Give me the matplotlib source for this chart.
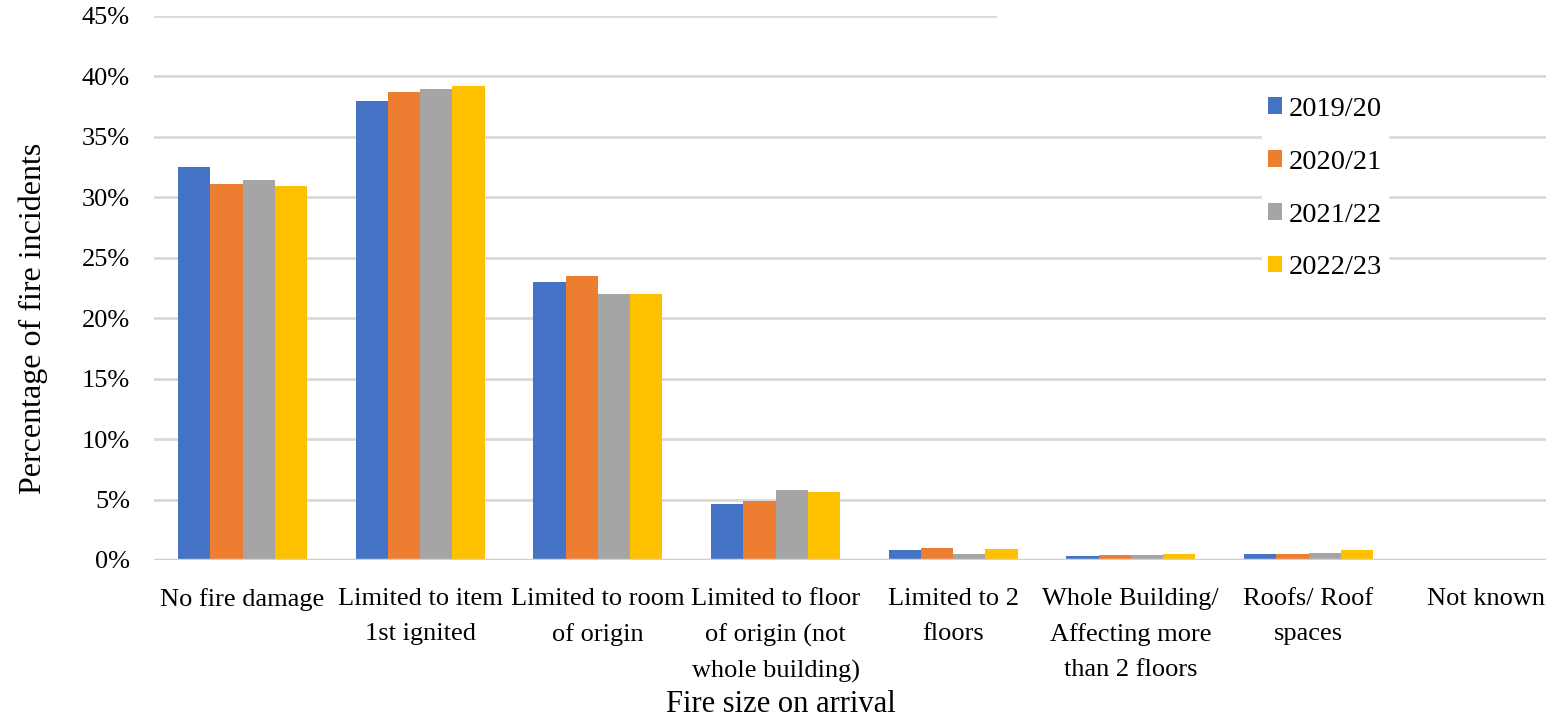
import numpy as np
import matplotlib.pyplot as plt
from matplotlib.patches import Patch

plt.rcParams['font.family'] = ['Liberation Serif', 'DejaVu Serif']

# Share of fire incidents (%) by fire size on arrival
categories = ['No fire damage',
              'Limited to item\n1st ignited',
              'Limited to room\nof origin',
              'Limited to floor\nof origin (not\nwhole building)',
              'Limited to 2\nfloors',
              'Whole Building/\nAffecting more\nthan 2 floors',
              'Roofs/ Roof\nspaces',
              'Not known']
years = ['2019/20', '2020/21', '2021/22', '2022/23']
y2019 = [32.5, 38.0, 23.0, 4.6, 0.8, 0.3, 0.5, 0.0]
y2020 = [31.1, 38.7, 23.5, 4.9, 1.0, 0.4, 0.5, 0.0]
y2021 = [31.4, 39.0, 22.0, 5.8, 0.5, 0.4, 0.6, 0.0]
y2022 = [30.9, 39.2, 22.0, 5.6, 0.9, 0.5, 0.8, 0.0]
yticks = [0, 5, 10, 15, 20, 25, 30, 35, 40, 45]

colors = ['#4472C4', '#ED7D31', '#A5A5A5', '#FFC000']
series = [y2019, y2020, y2021, y2022]

fig = plt.figure(figsize=(15.46, 7.21), dpi=100)
# the plot area runs a bit past the right edge of the figure
ax = fig.add_axes([153.7 / 1546, 1 - 560 / 721, (1575 - 153.7) / 1546, (560 - 16) / 721])

x = np.arange(len(categories))
bw = 0.1815
for i, (vals, c) in enumerate(zip(series, colors)):
    ax.bar(x + (i - 1.5) * bw, vals, bw, color=c, zorder=3)

# gridlines (top one is cut short)
for t in yticks[1:]:
    xmax = 0.592 if t == 45 else 1.0
    ax.axhline(t, xmin=0, xmax=xmax, color='#d9d9d9', lw=2, zorder=1)
ax.axhline(0, color='#d0d0d0', lw=2.5, zorder=4)

ax.set_xlim(-0.5, len(categories) - 0.5)
ax.set_ylim(0, 45)
ax.set_yticks(yticks)
ax.set_yticklabels([f'{t}%' for t in yticks], fontsize=19)
ax.set_xticks(x)
ax.set_xticklabels(categories, fontsize=19, linespacing=1.75)
ax.tick_params(axis='both', length=0)
ax.tick_params(axis='y', pad=17)
ax.tick_params(axis='x', pad=20)
for s in ax.spines.values():
    s.set_visible(False)

fig.text(33 / 1546, 1 - 318 / 721, 'Percentage of fire incidents', rotation=90,
         ha='center', va='center', fontsize=23)
fig.text(781 / 1546, 1 - 705 / 721, 'Fire size on arrival',
         ha='center', va='center', fontsize=22)

handles = [Patch(facecolor=c, edgecolor='none') for c in colors]
leg = ax.legend(handles, years, loc='upper left',
                bbox_to_anchor=(1262 / 1546, 1 - 91 / 721), bbox_transform=fig.transFigure,
                fontsize=20.5, frameon=True, facecolor='white', edgecolor='white', framealpha=1,
                fancybox=False, handlelength=0.5, handleheight=0.5, handletextpad=0.25,
                labelspacing=0.98, borderpad=0.2, borderaxespad=0)
leg.set_zorder(5)

fig.savefig('out.png', dpi=100)
